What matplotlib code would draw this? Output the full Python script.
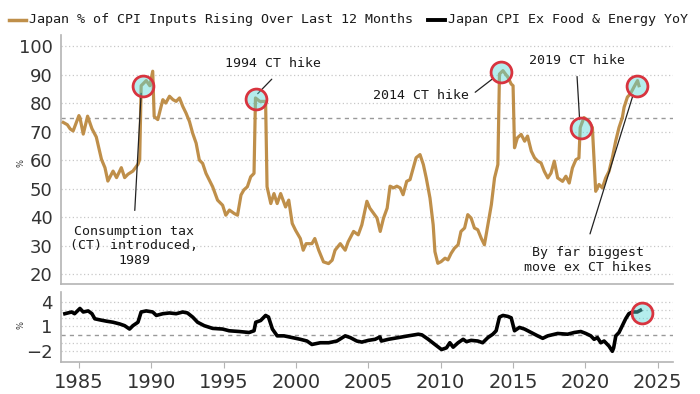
import matplotlib
matplotlib.use("Agg")
import matplotlib.pyplot as plt

# 数据：日本CPI分项上涨比例（%）
inputs_years = [1983.92, 1984.2, 1984.4, 1984.6, 1985.0, 1985.07, 1985.3, 1985.6, 1985.9,
                1986.2, 1986.56, 1986.8, 1987.0, 1987.36, 1987.6, 1987.93, 1988.16, 1988.39,
                1988.73, 1989.08, 1989.2, 1989.3, 1989.65, 1989.9, 1990.1, 1990.2, 1990.45,
                1990.8, 1991.0, 1991.26, 1991.5, 1991.72, 1991.95, 1992.18, 1992.4, 1992.64,
                1992.86, 1993.1, 1993.32, 1993.55, 1993.78, 1994.24, 1994.58, 1994.93, 1995.15,
                1995.4, 1995.73, 1995.96, 1996.2, 1996.4, 1996.64, 1996.87, 1997.1, 1997.2,
                1997.5, 1997.9, 1998.0, 1998.26, 1998.48, 1998.7, 1998.94, 1999.28, 1999.5,
                1999.74, 1999.97, 2000.3, 2000.5, 2000.7, 2001.1, 2001.3, 2001.57, 2001.9,
                2002.25, 2002.5, 2002.7, 2003.06, 2003.4, 2003.6, 2003.98, 2004.3, 2004.55,
                2004.9, 2005.1, 2005.36, 2005.6, 2005.82, 2006.05, 2006.3, 2006.5, 2006.74,
                2006.97, 2007.2, 2007.4, 2007.65, 2007.88, 2008.1, 2008.3, 2008.57, 2008.8,
                2009.0, 2009.26, 2009.48, 2009.6, 2009.8, 2010.03, 2010.3, 2010.5, 2010.72,
                2010.95, 2011.2, 2011.4, 2011.65, 2011.87, 2012.1, 2012.33, 2012.56, 2012.8,
                2013.02, 2013.26, 2013.5, 2013.72, 2013.95, 2014.06, 2014.3, 2014.64, 2014.87,
                2015.0, 2015.1, 2015.3, 2015.56, 2015.8, 2016.0, 2016.26, 2016.48, 2016.7,
                2016.93, 2017.16, 2017.4, 2017.62, 2017.85, 2018.08, 2018.42, 2018.65, 2018.88,
                2019.1, 2019.34, 2019.55, 2019.64, 2019.9, 2020.2, 2020.48, 2020.71, 2020.94,
                2021.17, 2021.4, 2021.63, 2021.86, 2022.09, 2022.32, 2022.55, 2022.67, 2022.9,
                2023.1, 2023.35, 2023.6, 2023.7]
inputs_vals = [73.3, 72.5, 71.0, 70.3, 75.7, 75.0, 69.2, 75.5, 71.1,
               68.2, 60.3, 57.4, 52.7, 56.2, 53.9, 57.4, 53.9, 55.1,
               56.2, 58.6, 60.3, 86.2, 88.0, 86.2, 91.3, 75.4, 74.3,
               81.3, 80.1, 82.5, 81.3, 80.7, 81.9, 78.9, 76.6, 73.6,
               69.5, 66.0, 60.1, 58.9, 55.4, 50.7, 46.0, 44.2, 40.7,
               42.5, 41.3, 40.7, 47.8, 49.6, 50.7, 54.2, 55.4, 81.9,
               80.7, 80.7, 50.7, 44.8, 48.3, 44.8, 48.3, 43.6, 46.0,
               37.8, 35.4, 32.5, 28.4, 30.7, 30.7, 32.5, 28.4, 24.3,
               23.7, 24.9, 28.4, 30.7, 28.4, 31.3, 35.0, 33.8, 37.3,
               45.6, 43.2, 41.4, 39.7, 35.0, 39.7, 43.2, 50.9, 50.3,
               50.9, 50.3, 47.9, 52.6, 53.2, 57.3, 60.9, 62.0, 58.5,
               53.8, 46.7, 37.3, 27.9, 23.8, 24.4, 25.6, 25.0, 27.3,
               29.1, 30.3, 35.0, 36.2, 40.9, 39.7, 36.2, 35.6, 32.6,
               30.3, 37.3, 44.4, 53.8, 58.5, 90.3, 91.5, 89.2, 86.8,
               86.2, 64.4, 67.9, 69.1, 66.7, 68.5, 63.2, 60.9, 59.7,
               59.1, 56.1, 53.8, 55.5, 59.7, 53.8, 52.6, 54.4, 52.0,
               57.3, 60.2, 60.8, 71.5, 75.0, 73.9, 71.5, 49.1, 51.5,
               50.3, 53.8, 56.1, 60.9, 66.7, 71.5, 75.0, 78.6, 82.2,
               83.3, 85.7, 88.0, 86.2]

# 核心CPI（除食品和能源）同比
core_years = [1984.03, 1984.5, 1984.7, 1985.07, 1985.3, 1985.64, 1985.9, 1986.1, 1986.44,
              1986.9, 1987.36, 1987.82, 1988.16, 1988.5, 1988.73, 1989.08, 1989.3, 1989.65,
              1990.1, 1990.35, 1990.8, 1991.26, 1991.72, 1992.18, 1992.5, 1992.86, 1993.2,
              1993.66, 1994.24, 1994.93, 1995.38, 1996.07, 1996.76, 1997.1, 1997.22, 1997.56,
              1997.9, 1998.1, 1998.37, 1998.7, 1999.17, 1999.74, 2000.3, 2000.76, 2001.1,
              2001.68, 2002.26, 2002.83, 2003.4, 2003.75, 2004.2, 2004.55, 2005.0, 2005.47,
              2005.8, 2005.9, 2006.39, 2007.08, 2007.76, 2008.45, 2008.7, 2009.14, 2009.6,
              2010.06, 2010.4, 2010.63, 2010.86, 2011.2, 2011.55, 2011.78, 2012.1, 2012.56,
              2012.9, 2013.26, 2013.6, 2013.83, 2014.06, 2014.3, 2014.64, 2014.87, 2015.1,
              2015.44, 2015.79, 2016.25, 2016.7, 2017.05, 2017.4, 2018.08, 2018.77, 2019.23,
              2019.68, 2020.03, 2020.37, 2020.6, 2020.83, 2021.06, 2021.29, 2021.63, 2021.86,
              2021.95, 2022.1, 2022.32, 2022.55, 2022.78, 2023.0, 2023.24, 2023.58, 2023.8]
core_vals = [2.55, 2.76, 2.55, 3.19, 2.76, 2.89, 2.55, 1.93, 1.80,
             1.64, 1.51, 1.30, 1.09, 0.68, 1.09, 1.51, 2.76, 2.89,
             2.76, 2.34, 2.55, 2.64, 2.55, 2.76, 2.64, 2.14, 1.51,
             1.09, 0.76, 0.68, 0.47, 0.38, 0.26, 0.47, 1.51, 1.72,
             2.34, 2.14, 0.68, -0.15, -0.15, -0.36, -0.57, -0.78, -1.20,
             -0.99, -0.99, -0.78, -0.15, -0.36, -0.78, -0.91, -0.70, -0.57,
             -0.28, -0.78, -0.57, -0.36, -0.15, 0.05, -0.03, -0.57, -1.20,
             -1.82, -1.61, -0.99, -1.53, -0.99, -0.57, -0.86, -0.70, -0.78,
             -0.99, -0.36, 0.05, 0.47, 2.14, 2.34, 2.22, 2.05, 0.47,
             0.88, 0.68, 0.26, -0.15, -0.45, -0.15, 0.14, 0.05, 0.26,
             0.38, 0.14, -0.15, -0.57, -0.36, -0.99, -0.78, -1.40, -2.03,
             -1.61, -0.15, 0.26, 1.09, 1.93, 2.55, 2.76, 2.76, 2.97]

# 圈出的点
hike_years = [1989.4, 1997.22, 2014.18, 2019.68, 2023.53]
hike_vals = [86.2, 81.5, 90.9, 71.5, 86.2]
core_mark_year = [2023.88]
core_mark_val = [2.67]

tan = '#BF8F4A'
grid_c = '#c8c8c8'
spine_c = '#b4b4b4'
txt_c = '#333333'
ring_face = (0.35, 0.85, 0.85, 0.45)
ring_edge = '#d8343f'
mono = ['DejaVu Sans Mono']

fig = plt.figure(figsize=(7, 3.94), dpi=100, facecolor='w')
ax1 = fig.add_axes([0.0871, 0.279, 0.8743, 0.632])
ax2 = fig.add_axes([0.0871, 0.082, 0.8743, 0.178])

xmin, xmax = 1983.76, 2026.05

# 上图
for yv in range(20, 101, 10):
    ax1.axhline(yv, color=grid_c, lw=0.9, ls=(0, (1, 2)), zorder=0)
ax1.axhline(75, color='#999999', lw=1.0, ls=(0, (3, 3)), zorder=1)
ax1.plot(inputs_years, inputs_vals, color=tan, lw=2.3, zorder=3)
ax1.plot(hike_years, hike_vals, 'o', ms=15, mfc=ring_face, mec=ring_edge, mew=2.0, zorder=5)
ax1.set_xlim(xmin, xmax)
ax1.set_ylim(16.5, 104)
ax1.set_yticks(range(20, 101, 10))
ax1.set_xticks([])
for s in ['top', 'right']:
    ax1.spines[s].set_visible(False)
for s in ['left', 'bottom']:
    ax1.spines[s].set_color(spine_c)
    ax1.spines[s].set_linewidth(1.2)
ax1.tick_params(axis='y', length=0, pad=6, labelsize=13, labelcolor=txt_c)

# 注释
ann = dict(fontsize=9.5, family=mono, color='#1a1a1a', ha='center', va='center')
arrow = dict(arrowstyle='-', color='#222222', lw=0.9)
ax1.text(1988.8, 30.0, 'Consumption tax\n(CT) introduced,\n1989', linespacing=1.15, **ann)
ax1.annotate('', xy=(1989.31, 84.5), xytext=(1988.85, 41.4), arrowprops=arrow)
ax1.text(1998.41, 94.0, '1994 CT hike', **ann)
ax1.annotate('', xy=(1997.22, 82.7), xytext=(1998.46, 89.2), arrowprops=arrow)
ax1.text(2008.62, 82.7, '2014 CT hike', **ann)
ax1.annotate('', xy=(2013.73, 89.2), xytext=(2012.23, 83.3), arrowprops=arrow)
ax1.text(2019.39, 95.1, '2019 CT hike', **ann)
ax1.annotate('', xy=(2019.61, 73.3), xytext=(2019.41, 90.4), arrowprops=arrow)
ax1.text(2020.21, 24.9, 'By far biggest\nmove ex CT hikes', linespacing=1.15, **ann)
ax1.annotate('', xy=(2023.35, 83.9), xytext=(2020.26, 33.2), arrowprops=arrow)

# 下图
for yv in range(-2, 5):
    if yv == 0:
        ax2.axhline(0, color='#999999', lw=1.0, ls=(0, (3, 3)), zorder=1)
    else:
        ax2.axhline(yv, color=grid_c, lw=0.9, ls=(0, (1, 2)), zorder=0)
ax2.plot(core_years, core_vals, color='black', lw=2.6, zorder=3)
ax2.plot(core_mark_year, core_mark_val, 'o', ms=15, mfc=ring_face, mec=ring_edge, mew=2.0, zorder=5)
ax2.set_xlim(xmin, xmax)
ax2.set_ylim(-3.3, 5.25)
ax2.set_yticks([4, 1, -2])
ax2.set_xticks(range(1985, 2026, 5))
for s in ['top', 'right']:
    ax2.spines[s].set_visible(False)
for s in ['left', 'bottom']:
    ax2.spines[s].set_color(spine_c)
    ax2.spines[s].set_linewidth(1.2)
ax2.tick_params(axis='y', length=0, pad=6, labelsize=13, labelcolor=txt_c)
ax2.tick_params(axis='x', length=4, color=spine_c, pad=4, labelsize=14, labelcolor=txt_c)

# 纵轴单位
fig.text(0.03, 1 - 163 / 394, '%', rotation=90, fontsize=6, color=txt_c, ha='center', va='center')
fig.text(0.03, 1 - 325 / 394, '%', rotation=90, fontsize=6, color=txt_c, ha='center', va='center')

# 图例
fig.lines.append(plt.Line2D([9 / 700, 26 / 700], [1 - 20 / 394] * 2, color=tan, lw=2.5,
                            transform=fig.transFigure))
fig.text(29 / 700, 1 - 20 / 394, 'Japan % of CPI Inputs Rising Over Last 12 Months',
         family=mono, fontsize=9.6, color='#1a1a1a', va='center')
fig.lines.append(plt.Line2D([428 / 700, 445 / 700], [1 - 20 / 394] * 2, color='black', lw=2.8,
                            transform=fig.transFigure))
fig.text(448 / 700, 1 - 20 / 394, 'Japan CPI Ex Food & Energy YoY',
         family=mono, fontsize=9.6, color='#1a1a1a', va='center')

plt.savefig('out.png', dpi=100)
